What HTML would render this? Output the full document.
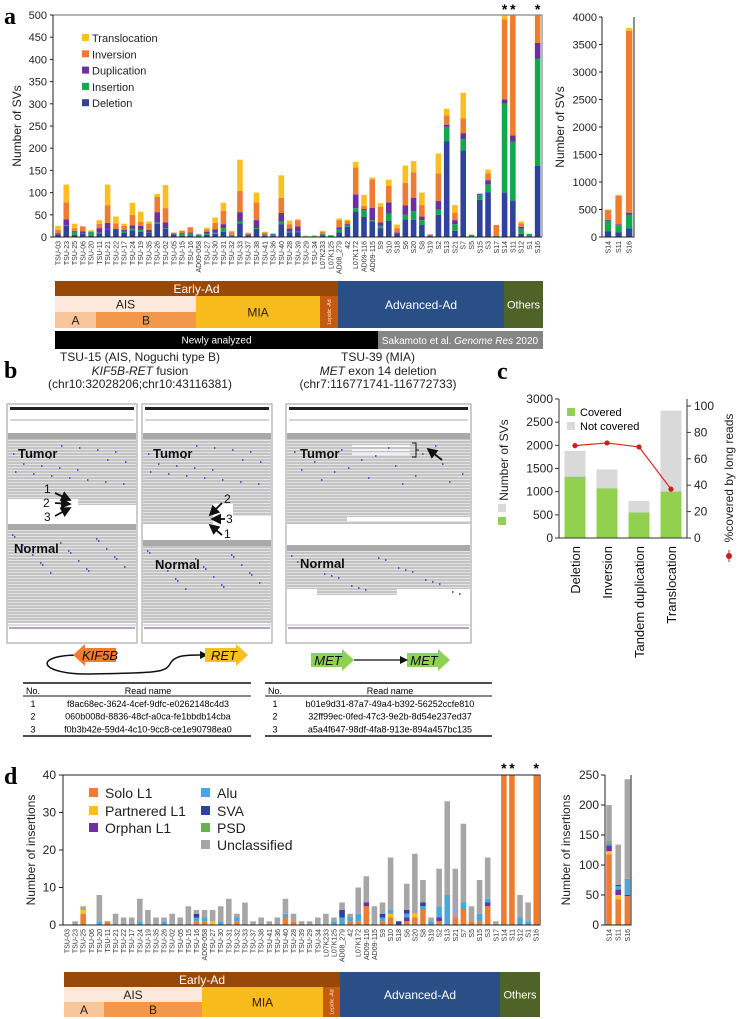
<!DOCTYPE html>
<html><head><meta charset="utf-8"><style>
html,body{margin:0;padding:0;background:#fff;}
svg{display:block;font-family:"Liberation Sans",sans-serif;}
</style></head><body>
<svg id="fig" width="741" height="1019" viewBox="0 0 741 1019" xmlns="http://www.w3.org/2000/svg">
<defs>
<clipPath id="clipA"><rect x="53" y="15" width="489" height="223"/></clipPath>
<clipPath id="clipD"><rect x="63" y="775" width="477" height="151"/></clipPath>
<pattern id="reads" width="6" height="3" patternUnits="userSpaceOnUse"><rect width="6" height="3" fill="#c4c4c4"/><rect y="2.3" width="6" height="0.7" fill="#f2f2f2"/></pattern>
<marker id="ah" markerWidth="6" markerHeight="6" refX="5" refY="3" orient="auto"><path d="M0,0 L6,3 L0,6 Z" fill="#111"/></marker>
</defs>
<g id="panelA"></g>
<g id="panelB"></g>
<g id="panelC"></g>
<g id="panelD"></g>
</svg>
<script>
const samples = ["TSU-03","TSU-23","TSU-25","TSU-06","TSU-20","TSU-11","TSU-21","TSU-22","TSU-17","TSU-24","TSU-19","TSU-35","TSU-26","TSU-02","TSU-05","TSU-15","TSU-16","AD09-058","TSU-27","TSU-30","TSU-31","TSU-32","TSU-33","TSU-37","TSU-38","TSU-41","TSU-36","TSU-40","TSU-28","TSU-39","TSU-29","TSU-34","L07K233","L07K125","AD08_279","42","L07K172","AD09-116","AD09-115","S9","S10","S18","S6","S20","S8","S19","S2","S13","S21","S7","S5","S15","S3","S17","S14","S11","S12","S1","S16"];
const svDeletion = [5,25,5,7,3,8,17,17,9,15,12,9,30,18,6,3,4,1,5,7,12,2,31,4,18,3,3,29,10,11,1,1,4,1,10,23,58,45,35,20,36,7,40,39,27,3,50,216,14,195,1,84,101,2,100,82,7,2,160];
const svInsertion = [0,2,7,1,8,2,1,0,3,4,5,1,3,2,1,5,4,5,2,3,8,2,4,0,2,1,3,6,2,1,0,1,2,3,7,2,7,15,3,5,17,0,10,19,11,1,12,32,15,25,4,11,17,1,200,133,12,5,242];
const svDuplication = [3,13,2,5,1,10,14,1,4,7,8,6,23,13,1,1,2,0,5,7,9,1,21,2,18,2,1,19,7,12,0,0,1,0,5,4,31,3,28,8,25,3,21,30,8,1,19,5,9,14,0,2,10,0,10,14,4,0,35];
const svInversion = [8,38,6,11,1,10,39,13,9,24,9,14,34,32,2,5,12,0,5,15,30,6,48,2,40,4,1,34,10,14,0,0,5,0,16,7,61,7,64,35,37,10,51,58,26,1,62,21,17,33,0,1,15,24,180,520,8,0,3313];
const svTranslocation = [9,40,10,0,2,8,47,15,5,27,23,5,7,52,0,1,0,0,4,12,18,3,70,2,22,2,0,51,8,2,2,2,2,0,4,3,12,25,4,8,14,8,39,25,28,0,45,15,17,58,1,0,9,0,10,18,4,1,50];
const svTicks = [0,50,100,150,200,250,300,350,400,450,500];
const insetSamples = ["S14","S11","S16"];
const insetTicks = [0,500,1000,1500,2000,2500,3000,3500,4000];

const cCategories = ["Deletion","Inversion","Tandem duplication","Translocation"];
const cCovered = [1320,1070,550,1000];
const cTotal = [1880,1480,800,2750];
const cPercent = [70,72,69,37];
const cLeftTicks = [0,500,1000,1500,2000,2500,3000];
const cRightTicks = [0,20,40,60,80,100];

const dSolo = [0,0,3,0,0,1,0,0,0,0,0,0,0,0,0,0,1,1,0,0,0,1,0,0,0,0,0,2,1,0,0,0,0,0,0,1,1,5,0,1,2,0,1,2,4,0,1,0,2,4,1,1,5,0,200,134,0,0,243];
const dPartnered = [0,0,1,0,0,0,0,0,0,0,0,0,0,0,0,0,0,0,1,0,0,0,0,0,0,0,0,0,0,0,0,0,0,0,0,0,0,0,0,0,1,0,0,1,0,0,0,0,0,0,0,0,0,0,0,0,0,0,0];
const dOrphan = [0,0,0,0,0,0,0,0,0,0,0,0,0,0,0,0,0,0,0,0,0,0,0,0,0,0,0,0,0,0,0,0,0,0,0,0,0,1,0,0,0,0,1,0,0,0,1,0,0,0,0,0,1,0,0,0,0,0,0];
const dAlu = [0,0,0,0,1,0,0,0,0,1,0,0,1,0,0,0,1,1,0,1,0,1,0,0,0,0,0,1,0,0,0,0,0,1,2,1,2,0,0,1,1,0,1,0,1,1,3,8,0,2,0,2,1,0,0,0,2,1,0];
const dSVA = [0,0,0,0,0,0,0,0,0,0,0,0,0,0,0,0,1,0,0,0,0,0,0,0,0,0,0,0,0,0,0,0,0,0,2,0,0,0,0,1,0,1,1,0,1,0,0,0,0,0,0,0,0,0,0,0,0,0,0];
const dUnclassified = [0,1,1,0,7,0,3,2,2,6,4,2,1,3,2,5,1,2,3,4,7,1,6,1,2,1,2,4,2,1,1,2,3,1,2,1,7,7,5,3,14,0,7,16,6,1,10,25,13,21,4,9,11,1,0,0,6,5,0];
const dTicks = [0,10,20,30,40];
const dInsetSolo = [118,43,48];
const dInsetPartnered = [5,7,0];
const dInsetOrphan = [10,9,2];
const dInsetAlu = [4,6,27];
const dInsetSVA = [0,2,0];
const dInsetPSD = [3,0,0];
const dInsetUnclassified = [60,67,166];
const dInsetTicks = [0,50,100,150,200,250];

const NS="http://www.w3.org/2000/svg";
function mk(parent, tag, attrs, text){
  const e=document.createElementNS(NS,tag);
  for(const k in attrs) e.setAttribute(k,attrs[k]);
  if(text!==undefined) e.textContent=text;
  parent.appendChild(e); return e;
}
const A=document.getElementById('panelA'), B=document.getElementById('panelB'), C=document.getElementById('panelC'), D=document.getElementById('panelD');
const colDel="#2f429c", colIns="#13a84b", colDup="#6b2fa0", colInv="#ee7d31", colTr="#fbbf1f";

// ---------- Panel A ----------
let t=mk(A,'text',{x:4,y:24,'font-family':'Liberation Serif, serif','font-weight':'bold','font-size':24});t.textContent='a';

const xa=i=>58+i*8.27, ya=v=>237-v*222/500;
let g=mk(A,'g',{'clip-path':'url(#clipA)'});

const svSeries=[[svDeletion,colDel],[svInsertion,colIns],[svDuplication,colDup],[svInversion,colInv],[svTranslocation,colTr]];
samples.forEach((s,i)=>{
  let base=0;
  svSeries.forEach(([arr,c])=>{
    const v=arr[i]; if(!v) return;
    const r=mk(g,'rect',{x:xa(i)-2.8,y:ya(base+v),width:5.6,height:ya(base)-ya(base+v),fill:c});
    
    
    base+=v;
  });
  const lb=mk(A,'text',{transform:`translate(${xa(i)+2.5},241) rotate(-90)`,'text-anchor':'end','font-size':7,fill:'#333'},s);
  
  
});
mk(A,'path',{d:'M53,15 H542 V237',fill:'none',stroke:'#888','stroke-width':1.2});
mk(A,'path',{d:'M53,15 V237 H542',fill:'none',stroke:'#222','stroke-width':1});
svTicks.forEach(v=>{
  mk(A,'line',{x1:50,x2:53,y1:ya(v),y2:ya(v),stroke:'#222'});
  const tl=mk(A,'text',{x:47,y:ya(v)+4,'text-anchor':'end','font-size':11,fill:'#222'},v);
  
  
});
t=mk(A,'text',{transform:'translate(21,126) rotate(-90)','text-anchor':'middle','font-size':12,fill:'#222'},'Number of SVs');

['S14','S11','S16'].forEach(s=>{
  const st=mk(A,'text',{x:xa(samples.indexOf(s)),y:14,'text-anchor':'middle','font-size':14,'font-weight':'bold'},'*');
  
  
});
const legA=[['Translocation',colTr],['Inversion',colInv],['Duplication',colDup],['Insertion',colIns],['Deletion',colDel]];
legA.forEach(([n,c],k)=>{
  const y=39+k*16.3;
  const lg=mk(A,'g',{});
  
  
  mk(lg,'rect',{x:82,y:y-5,width:7,height:7,fill:c});
  mk(lg,'text',{x:92,y:y+3,'font-size':11,fill:'#222'},n);
});
const xi=i=>608+i*10.6, yi=v=>237-v*220/4000;
insetSamples.forEach((s,ii)=>{
  const i=samples.indexOf(s); let base=0;
  svSeries.forEach(([arr,c])=>{
    const v=arr[i]; if(!v) return;
    const r=mk(A,'rect',{x:xi(ii)-3.2,y:yi(base+v),width:6.4,height:yi(base)-yi(base+v),fill:c});
    
    
    base+=v;
  });
  const lb=mk(A,'text',{transform:`translate(${xi(ii)+2.5},241) rotate(-90)`,'text-anchor':'end','font-size':7,fill:'#333'},s);
  
  
});
mk(A,'path',{d:'M602,17 V237 H634 V17',fill:'none',stroke:'#222'});
insetTicks.forEach(v=>{
  mk(A,'line',{x1:599,x2:602,y1:yi(v),y2:yi(v),stroke:'#222'});
  const tl=mk(A,'text',{x:597,y:yi(v)+4,'text-anchor':'end','font-size':11,fill:'#222'},v);
  
  
});
t=mk(A,'text',{transform:'translate(564,127) rotate(-90)','text-anchor':'middle','font-size':12,fill:'#222'},'Number of SVs');


function band(P,x,y,w,h,fill,label,tc,fs,name,rot){
  const gg=mk(P,'g',{});
  
  
  mk(gg,'rect',{x:x,y:y,width:w,height:h,fill:fill});
  if(label){
    if(rot) mk(gg,'text',{transform:`translate(${x+w/2+2},${y+h/2}) rotate(-90)`,'text-anchor':'middle','font-size':fs,fill:tc},label);
    else mk(gg,'text',{x:x+w/2,y:y+h/2+fs*0.36,'text-anchor':'middle','font-size':fs,fill:tc},label);
  }
}
band(A,55,281,283,15,'#984807','Early-Ad','#fff',12,'group-early-ad');
band(A,55,296,141,16,'#fde9db','AIS','#222',12,'group-ais');
band(A,55,312,41,16,'#f9c69c','A','#222',12,'group-ais-a');
band(A,96,312,100,16,'#f3974b','B','#222',12,'group-ais-b');
band(A,196,296,124,32,'#f8bb1c','MIA','#222',12,'group-mia');
band(A,320,296,18,32,'#c55a11','Lepidic -Ad','#fde9db',5,'group-lepidic',true);
band(A,338,281,166,47,'#2a4f86','Advanced-Ad','#fff',12,'group-advanced-ad');
band(A,504,281,39,47,'#4f6228','Others','#fff',11,'group-others');
band(A,55,331,323,18,'#000','Newly analyzed','#fff',10,'cohort-newly-analyzed');
let sk=mk(A,'g',{});
mk(sk,'rect',{x:378,y:331,width:165,height:18,fill:'#858585'});
mk(sk,'text',{x:460,y:344,'text-anchor':'middle','font-size':10,fill:'#fff'}).innerHTML='Sakamoto et al. <tspan font-style="italic">Genome Res</tspan> 2020';

// ---------- Panel B ----------
t=mk(B,'text',{x:4,y:378,'font-family':'Liberation Serif, serif','font-weight':'bold','font-size':24},'b');

[['TSU-15 (AIS, Noguchi type B)',140,361],['(chr10:32028206;chr10:43116381)',140,388],['TSU-39 (MIA)',378,361],['(chr7:116771741-116772733)',378,388]].forEach(([s,x,y])=>{
  const tt=mk(B,'text',{x:x,y:y,'text-anchor':'middle','font-size':12,fill:'#222'},s);
  
});
t=mk(B,'text',{x:140,y:375,'text-anchor':'middle','font-size':12,fill:'#222'});t.innerHTML='<tspan font-style="italic">KIF5B-RET</tspan> fusion';

t=mk(B,'text',{x:378,y:375,'text-anchor':'middle','font-size':12,fill:'#222'});t.innerHTML='<tspan font-style="italic">MET</tspan> exon 14 deletion';

function igv(x,w,tum,norm,tumLab,normLab,name){
  const gg=mk(B,'g',{});
  
  
  mk(gg,'rect',{x:x,y:404,width:w,height:239,fill:'#fff',stroke:'#aaa','stroke-width':1.2});
  mk(gg,'rect',{x:x+3,y:407,width:w-6,height:3,fill:'#222'});
  mk(gg,'line',{x1:x+3,x2:x+w-3,y1:420,y2:420,stroke:'#555','stroke-width':0.6});
  mk(gg,'rect',{x:x+1,y:tum[0],width:w-2,height:6,fill:'#a9a9a9'});
  tum.slice(1).forEach(r=>mk(gg,'rect',{x:x+1+r[0],y:r[1],width:r[2],height:r[3],fill:'url(#reads)'}));
  mk(gg,'rect',{x:x+1,y:norm[0],width:w-2,height:6,fill:'#a9a9a9'});
  norm.slice(1).forEach(r=>mk(gg,'rect',{x:x+1+r[0],y:r[1],width:r[2],height:r[3],fill:'url(#reads)'}));
  for(let k=0;k<40;k++){const px=x+5+((k*37)%(w-10)), py=(k%2?tum[1][1]+5+((k*13)%40):norm[1][1]+4+((k*17)%40));mk(gg,'rect',{x:px,y:py,width:1.5,height:2,fill:'#6a4fd0'});}
  mk(gg,'line',{x1:x+1,x2:x+w-1,y1:625,y2:625,stroke:'#bbb'});
  mk(gg,'rect',{x:x+2,y:627,width:w-4,height:2,fill:'#b9a0c0'});
  mk(gg,'text',{x:tumLab[0],y:tumLab[1],'font-size':13,'font-weight':'bold',fill:'#111'},'Tumor');
  mk(gg,'text',{x:normLab[0],y:normLab[1],'font-size':13,'font-weight':'bold',fill:'#111'},'Normal');
}
igv(7,130,[433,[0,439,128,60],[70,499,58,6]],[524,[0,530,128,93]],[18,458],[14,553],'igv-kif5b');
igv(142,130,[433,[0,439,128,65],[0,504,70,20],[90,504,38,12]],[540,[0,546,128,77]],[153,458],[155,569],'igv-ret');
igv(286,185,[433,[0,439,183,78],[0,517,60,4],[0,521,183,3]],[545,[0,551,183,38],[30,589,80,6]],[300,458],[300,568],'igv-met');
mk(B,'path',{d:'M352,446 H410 M352,450 H410 M352,454 H410',stroke:'#fff','stroke-width':1.5});
mk(B,'path',{d:'M412,443 h4 v14 h-4 M416,450 h3',fill:'none',stroke:'#111','stroke-width':1});
mk(B,'line',{x1:442,y1:460,x2:428,y2:449,stroke:'#111','stroke-width':1.8,'marker-end':'url(#ah)'});
// KIF5B arrows 1,2,3
[[55,493,70,500,'1',48,493],[55,503,70,504,'2',47,507],[55,516,70,508,'3',48,521]].forEach(([x1,y1,x2,y2,l,lx,ly])=>{
  const ag=mk(B,'g',{});  
  mk(ag,'line',{x1:x1,y1:y1,x2:x2,y2:y2,stroke:'#111','stroke-width':1.8,'marker-end':'url(#ah)'});
  mk(ag,'text',{x:lx-4,y:ly,'font-size':12,fill:'#111'},l);
});
[[222,503,210,515,'2',224,503],[225,519,212,519,'3',226,523],[222,535,210,525,'1',224,538]].forEach(([x1,y1,x2,y2,l,lx,ly])=>{
  const ag=mk(B,'g',{});  
  mk(ag,'line',{x1:x1,y1:y1,x2:x2,y2:y2,stroke:'#111','stroke-width':1.8,'marker-end':'url(#ah)'});
  mk(ag,'text',{x:lx,y:ly,'font-size':12,fill:'#111'},l);
});
function arr(P,pts,fill,label,lx,ly,name){
  const gg=mk(P,'g',{});
  
  
  mk(gg,'polygon',{points:pts,fill:fill});
  mk(gg,'text',{x:lx,y:ly,'text-anchor':'middle','font-size':13,'font-style':'italic',fill:'#111'},label);
}
mk(B,'path',{d:'M80,655 C30,655 40,675 90,674 C160,673 165,672 170,664 C175,654 190,655 205,655',fill:'none',stroke:'#111','stroke-width':1.5});
mk(B,'polygon',{points:'200,651 208,655 200,659',fill:'#111'});
arr(B,'73,655 85,644 85,648 116,648 116,662 85,662 85,666','#ee7d31','KIF5B',100,660,'kif5b-gene');
arr(B,'205,648 236,648 236,644 248,655 236,666 236,662 205,662','#fbbf1f','RET',224,660,'ret-gene');
arr(B,'311,653 342,653 342,649 354,660 342,671 342,667 311,667','#8cd253','MET',328,665,'met-gene-1');
arr(B,'407,653 438,653 438,649 450,660 438,671 438,667 407,667','#8cd253','MET',424,665,'met-gene-2');
mk(B,'line',{x1:354,x2:402,y1:660,y2:660,stroke:'#111','stroke-width':1.3});
mk(B,'polygon',{points:'400,656 408,660 400,664',fill:'#111'});
function table(x0,w,rows,name){
  const gg=mk(B,'g',{});
  
  
  mk(gg,'line',{x1:x0,x2:x0+w,y1:683,y2:683,stroke:'#111','stroke-width':1.5});
  mk(gg,'line',{x1:x0,x2:x0+w,y1:696,y2:696,stroke:'#111','stroke-width':1});
  mk(gg,'line',{x1:x0,x2:x0+w,y1:736,y2:736,stroke:'#111','stroke-width':1.5});
  mk(gg,'text',{x:x0+10,y:694,'text-anchor':'middle','font-size':9},'No.');
  mk(gg,'text',{x:x0+125,y:694,'text-anchor':'middle','font-size':9},'Read name');
  rows.forEach((r,k)=>{
    mk(gg,'text',{x:x0+10,y:707+k*12.7,'text-anchor':'middle','font-size':9},k+1);
    mk(gg,'text',{x:x0+125,y:707+k*12.7,'text-anchor':'middle','font-size':9},r);
  });
}
table(23,228,['f8ac68ec-3624-4cef-9dfc-e0262148c4d3','060b008d-8836-48cf-a0ca-fe1bbdb14cba','f0b3b42e-59d4-4c10-9cc8-ce1e90798ea0'],'table-kif5b-reads');
table(265,227,['b01e9d31-87a7-49a4-b392-56252ccfe810','32ff99ec-0fed-47c3-9e2b-8d54e237ed37','a5a4f647-98df-4fa8-913e-894a457bc135'],'table-met-reads');

// ---------- Panel C ----------
t=mk(C,'text',{x:497,y:379,'font-family':'Liberation Serif, serif','font-weight':'bold','font-size':24},'c');

const yc=v=>538-v*139/3000, ycr=v=>538-v*132/100, xc=i=>575+i*32;
cCategories.forEach((n,i)=>{
  let r=mk(C,'rect',{x:xc(i)-10.5,y:yc(cTotal[i]),width:21,height:yc(0)-yc(cTotal[i]),fill:'#d9d9d9'});
  
  r=mk(C,'rect',{x:xc(i)-10.5,y:yc(cCovered[i]),width:21,height:yc(0)-yc(cCovered[i]),fill:'#92d050'});
  
  const lb=mk(C,'text',{transform:`translate(${xc(i)+5},546) rotate(-90)`,'text-anchor':'end','font-size':13,fill:'#111'},n);
  
});
let pl=mk(C,'polyline',{points:cPercent.map((p,i)=>xc(i)+','+ycr(p)).join(' '),fill:'none',stroke:'#d7261e','stroke-width':1.2});

cPercent.forEach((p,i)=>{const c=mk(C,'circle',{cx:xc(i),cy:ycr(p),r:2.6,fill:'#c8201a'});});
mk(C,'path',{d:'M559,399 V538 H687 V399',fill:'none',stroke:'#333'});
cLeftTicks.forEach(v=>{mk(C,'line',{x1:555,x2:559,y1:yc(v),y2:yc(v),stroke:'#333'});
  const tl=mk(C,'text',{x:553,y:yc(v)+4,'text-anchor':'end','font-size':12,fill:'#222'},v);});
cRightTicks.forEach(v=>{mk(C,'line',{x1:687,x2:691,y1:ycr(v),y2:ycr(v),stroke:'#333'});
  const tl=mk(C,'text',{x:694,y:ycr(v)+4,'font-size':12,fill:'#222'},v);});
let lgc=mk(C,'g',{});
mk(lgc,'rect',{x:567,y:408,width:8,height:8,fill:'#92d050'});mk(lgc,'text',{x:580,y:416,'font-size':11},'Covered');
lgc=mk(C,'g',{});
mk(lgc,'rect',{x:567,y:422,width:8,height:8,fill:'#d9d9d9'});mk(lgc,'text',{x:580,y:430,'font-size':11},'Not covered');
t=mk(C,'text',{transform:'translate(508,460) rotate(-90)','text-anchor':'middle','font-size':12,fill:'#222'},'Number of SVs');

mk(C,'rect',{x:498,y:504,width:8,height:8,fill:'#d9d9d9'});
mk(C,'rect',{x:498,y:517,width:8,height:8,fill:'#92d050'});
t=mk(C,'text',{transform:'translate(733,478) rotate(-90)','text-anchor':'middle','font-size':12,fill:'#222'},'%covered by long reads');

mk(C,'line',{x1:729,x2:729,y1:550,y2:562,stroke:'#c8201a'});mk(C,'circle',{cx:729,cy:556,r:3,fill:'#c8201a'});

// ---------- Panel D ----------
t=mk(D,'text',{x:4,y:784,'font-family':'Liberation Serif, serif','font-weight':'bold','font-size':24},'d');

const xd=i=>67+i*8.09, yd=v=>925-v*150/40;
const dSeries=[[dSolo,'#ee7d31'],[dPartnered,'#fbbf1f'],[dOrphan,'#7030a0'],[dAlu,'#4ba7da'],[dSVA,'#2f429c'],[dUnclassified,'#a6a6a6']];
g=mk(D,'g',{'clip-path':'url(#clipD)'});

samples.forEach((s,i)=>{
  let base=0;
  dSeries.forEach(([arr,c])=>{
    const v=arr[i]; if(!v) return;
    const r=mk(g,'rect',{x:xd(i)-2.8,y:yd(base+v),width:5.6,height:yd(base)-yd(base+v),fill:c});
    
    
    base+=v;
  });
  const lb=mk(D,'text',{transform:`translate(${xd(i)+2.5},929) rotate(-90)`,'text-anchor':'end','font-size':7,fill:'#333'},s);
  
  
});
mk(D,'path',{d:'M63,775 V925 H540 V775 Z',fill:'none',stroke:'#222'});
dTicks.forEach(v=>{mk(D,'line',{x1:59,x2:63,y1:yd(v),y2:yd(v),stroke:'#222'});
  const tl=mk(D,'text',{x:56,y:yd(v)+4,'text-anchor':'end','font-size':12,fill:'#222'},v);});
t=mk(D,'text',{transform:'translate(35,850) rotate(-90)','text-anchor':'middle','font-size':12,fill:'#222'},'Number of insertions');

['S14','S11','S16'].forEach(s=>{const st=mk(D,'text',{x:xd(samples.indexOf(s)),y:773,'text-anchor':'middle','font-size':14,'font-weight':'bold'},'*');});
const legD=[['Solo L1','#ee7d31',89,793],['Partnered L1','#fbbf1f',89,811],['Orphan L1','#7030a0',89,828],['Alu','#4ba7da',201,793],['SVA','#2f429c',201,811],['PSD','#6ab04c',201,828],['Unclassified','#a6a6a6',201,845]];
legD.forEach(([n,c,x,y])=>{
  const lg=mk(D,'g',{});
  
  
  mk(lg,'rect',{x:x,y:y-5,width:9,height:9,fill:c});
  mk(lg,'text',{x:x+16,y:y+5,'font-size':14,fill:'#222'},n);
});
const xdi=i=>609+i*9.2, ydi=v=>925-v*150/250;
const dInsetSeries=[[dInsetSolo,'#ee7d31'],[dInsetPartnered,'#fbbf1f'],[dInsetOrphan,'#7030a0'],[dInsetAlu,'#4ba7da'],[dInsetSVA,'#2f429c'],[dInsetPSD,'#6ab04c'],[dInsetUnclassified,'#a6a6a6']];
insetSamples.forEach((s,i)=>{
  let base=0;
  dInsetSeries.forEach(([arr,c])=>{
    const v=arr[i]; if(!v) return;
    const r=mk(D,'rect',{x:xdi(i)-2.8,y:ydi(base+v),width:5.6,height:ydi(base)-ydi(base+v),fill:c});
    
    
    base+=v;
  });
  const lb=mk(D,'text',{transform:`translate(${xdi(i)+2.5},929) rotate(-90)`,'text-anchor':'end','font-size':7,fill:'#333'},s);
  
  
});
mk(D,'path',{d:'M605,775 V925 H631 V775',fill:'none',stroke:'#222'});
dInsetTicks.forEach(v=>{mk(D,'line',{x1:601,x2:605,y1:ydi(v),y2:ydi(v),stroke:'#222'});
  const tl=mk(D,'text',{x:599,y:ydi(v)+4,'text-anchor':'end','font-size':12,fill:'#222'},v);});
t=mk(D,'text',{transform:'translate(570,850) rotate(-90)','text-anchor':'middle','font-size':12,fill:'#222'},'Number of insertions');

band(D,64,972,276,15,'#984807','Early-Ad','#fff',12,'group-early-ad');
band(D,64,987,138,15,'#fde9db','AIS','#222',12,'group-ais');
band(D,64,1002,40,15,'#f9c69c','A','#222',12,'group-ais-a');
band(D,104,1002,98,15,'#f3974b','B','#222',12,'group-ais-b');
band(D,202,987,121,30,'#f8bb1c','MIA','#222',12,'group-mia');
band(D,323,987,17,30,'#c55a11','Lepidic -Ad','#fde9db',5,'group-lepidic',true);
band(D,340,972,160,45,'#2a4f86','Advanced-Ad','#fff',12,'group-advanced-ad');
band(D,500,972,40,45,'#4f6228','Others','#fff',11,'group-others');
</script>
</body></html>
